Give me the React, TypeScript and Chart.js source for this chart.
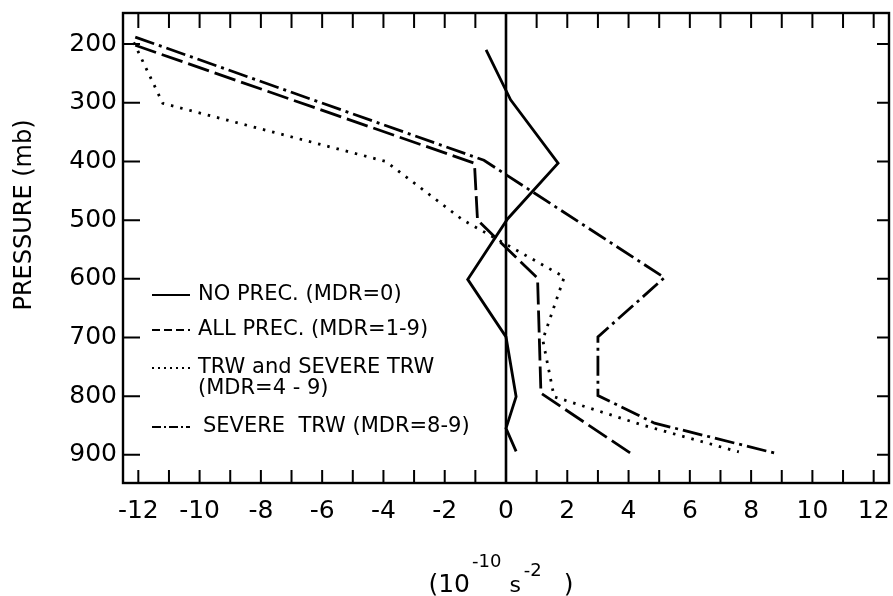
import React, { useEffect, useRef } from "react";
import { Chart, registerables } from "chart.js";

Chart.register(...registerables);

// ---- data ----
const xTickLabels = [-12, -10, -8, -6, -4, -2, 0, 2, 4, 6, 8, 10, 12];
const xMinorTicks = [-12, -11, -10, -9, -8, -7, -6, -5, -4, -3, -2, -1, 0, 1, 2, 3, 4, 5, 6, 7, 8, 9, 10, 11, 12];
const pressureTicks = [200, 300, 400, 500, 600, 700, 800, 900];

// NO PREC. (MDR=0)
const noPrecP = [210, 295, 403, 498, 601, 699, 801, 855, 894];
const noPrecX = [-0.65, 0.15, 1.7, 0.05, -1.25, 0.0, 0.33, 0.0, 0.33];

// ALL PREC. (MDR=1-9)
const allPrecP = [202, 403, 500, 599, 795, 902];
const allPrecX = [-12.1, -1.03, -0.93, 1.03, 1.14, 4.2];

// TRW and SEVERE TRW (MDR=4-9)
const trwP = [197, 301, 400, 500, 597, 704, 801, 850, 895];
const trwX = [-12.15, -11.2, -3.92, -1.4, 1.9, 1.2, 1.57, 4.5, 7.6];

// SEVERE TRW (MDR=8-9)
const severeP = [188, 398, 598, 699, 799, 846, 897];
const severeX = [-12.1, -0.72, 5.17, 3.0, 3.0, 4.85, 8.77];

const legendLabels = [
  ["NO PREC. (MDR=0)"],
  ["ALL PREC. (MDR=1-9)"],
  ["TRW and SEVERE TRW", "(MDR=4 - 9)"],
  ["SEVERE  TRW (MDR=8-9)"],
];

const FONT = '"DejaVu Sans", "Liberation Sans", sans-serif';

function toPoints(xs: number[], ps: number[]) {
  return ps.map((p, i) => ({ x: xs[i], y: p }));
}

const decorPlugin = {
  id: "decor",
  beforeDatasetsDraw(chart: any) {
    const { ctx, chartArea, scales } = chart;
    const x0 = scales.x.getPixelForValue(0);
    ctx.save();
    ctx.strokeStyle = "#000";
    ctx.lineWidth = 2.6;
    ctx.beginPath();
    ctx.moveTo(x0, chartArea.top);
    ctx.lineTo(x0, chartArea.bottom);
    ctx.stroke();
    ctx.restore();
  },
  afterDatasetsDraw(chart: any) {
    const { ctx, chartArea, scales } = chart;
    const { left, right, top, bottom } = chartArea;
    ctx.save();
    ctx.strokeStyle = "#000";
    ctx.lineWidth = 2.4;
    ctx.setLineDash([]);
    ctx.strokeRect(left, top, right - left, bottom - top);
    ctx.lineWidth = 2;
    ctx.beginPath();
    xMinorTicks.forEach((v) => {
      const px = scales.x.getPixelForValue(v);
      ctx.moveTo(px, top);
      ctx.lineTo(px, top + 15);
      ctx.moveTo(px, bottom);
      ctx.lineTo(px, bottom - 13);
    });
    pressureTicks.forEach((p) => {
      const py = scales.y.getPixelForValue(p);
      ctx.moveTo(left, py);
      ctx.lineTo(left + 17, py);
      ctx.moveTo(right, py);
      ctx.lineTo(right - 12, py);
    });
    ctx.stroke();
    ctx.restore();
  },
  afterDraw(chart: any) {
    const { ctx } = chart;
    ctx.save();
    ctx.fillStyle = "#000";
    ctx.strokeStyle = "#000";

    // legend
    const rows = [295, 330, 368, 427];
    const dashes = [[], [8, 4], [2, 4], [9, 3, 2, 3]];
    const textX = [198, 198, 198, 203];
    ctx.font = `21px ${FONT}`;
    ctx.textBaseline = "middle";
    ctx.textAlign = "left";
    rows.forEach((y, i) => {
      ctx.lineWidth = 2;
      ctx.setLineDash(dashes[i]);
      ctx.beginPath();
      ctx.moveTo(152, y);
      ctx.lineTo(190, y);
      ctx.stroke();
      legendLabels[i].forEach((t, j) => {
        ctx.fillText(t, textX[i], y + j * 21);
      });
    });
    ctx.setLineDash([]);

    // y title
    ctx.save();
    ctx.translate(25, 215);
    ctx.rotate(-Math.PI / 2);
    ctx.font = `24px ${FONT}`;
    ctx.textAlign = "center";
    ctx.textBaseline = "middle";
    ctx.fillText("PRESSURE (mb)", 0, 0);
    ctx.restore();

    // x title (10^-10 s^-2), laid out piece by piece
    ctx.textAlign = "left";
    ctx.textBaseline = "alphabetic";
    const pieces: [string, number, number, number][] = [
      // text, font size, baseline y, gap after
      ["(10", 25, 592, 2],
      ["-10", 18, 567, 8],
      ["s", 22, 592, 3],
      ["-2", 18, 576, 22],
      [")", 25, 592, 0],
    ];
    let total = 0;
    const widths = pieces.map(([t, sz, , g]) => {
      ctx.font = `${sz}px ${FONT}`;
      const w = ctx.measureText(t).width;
      total += w + g;
      return w;
    });
    let cx = 501 - total / 2;
    pieces.forEach(([t, sz, by, g], i) => {
      ctx.font = `${sz}px ${FONT}`;
      ctx.fillText(t, cx, by);
      cx += widths[i] + g;
    });
    ctx.restore();
  },
};

export default function App() {
  const canvasRef = useRef<HTMLCanvasElement | null>(null);

  useEffect(() => {
    if (!canvasRef.current) return;
    const common = {
      borderColor: "#000",
      borderWidth: 2.8,
      pointRadius: 0,
      fill: false,
      tension: 0,
      borderCapStyle: "butt" as const,
    };
    const chart = new Chart(canvasRef.current, {
      type: "line",
      data: {
        datasets: [
          { ...common, label: legendLabels[0].join(" "), data: toPoints(noPrecX, noPrecP), borderDash: [] },
          { ...common, label: legendLabels[1].join(" "), data: toPoints(allPrecX, allPrecP), borderDash: [22, 6] },
          { ...common, label: legendLabels[2].join(" "), data: toPoints(trwX, trwP), borderDash: [2.5, 7] },
          { ...common, label: legendLabels[3].join(" "), data: toPoints(severeX, severeP), borderDash: [20, 5, 3, 5] },
        ],
      },
      options: {
        responsive: false,
        animation: false,
        devicePixelRatio: 1,
        layout: { padding: { top: 13, right: 4, left: 0, bottom: 0 } },
        plugins: { legend: { display: false }, tooltip: { enabled: false } },
        scales: {
          x: {
            type: "linear",
            min: -12.5,
            max: 12.5,
            grid: { display: false, drawTicks: false },
            border: { display: false },
            ticks: {
              font: { family: FONT, size: 25 },
              color: "#000",
              padding: 13,
              maxRotation: 0,
              autoSkip: false,
              callback: (v: any) => String(v),
            },
            afterBuildTicks: (s: any) => {
              s.ticks = xTickLabels.map((v) => ({ value: v }));
            },
            afterFit: (s: any) => {
              s.height = 113;
              s.paddingLeft = 0;
              s.paddingRight = 0;
            },
          },
          y: {
            type: "linear",
            reverse: true,
            min: 147,
            max: 948,
            grid: { display: false, drawTicks: false },
            border: { display: false },
            ticks: {
              font: { family: FONT, size: 25 },
              color: "#000",
              padding: 6,
              autoSkip: false,
              callback: (v: any) => String(v),
            },
            afterBuildTicks: (s: any) => {
              s.ticks = pressureTicks.map((v) => ({ value: v }));
            },
            afterFit: (s: any) => {
              s.width = 123;
              s.paddingTop = 0;
              s.paddingBottom = 0;
            },
          },
        },
      } as any,
      plugins: [decorPlugin],
    });
    return () => chart.destroy();
  }, []);

  return (
    <div style={{ position: "absolute", left: 0, top: 0, width: 893, height: 596, background: "#fff" }}>
      <canvas ref={canvasRef} width={893} height={596} style={{ display: "block" }} />
    </div>
  );
}
